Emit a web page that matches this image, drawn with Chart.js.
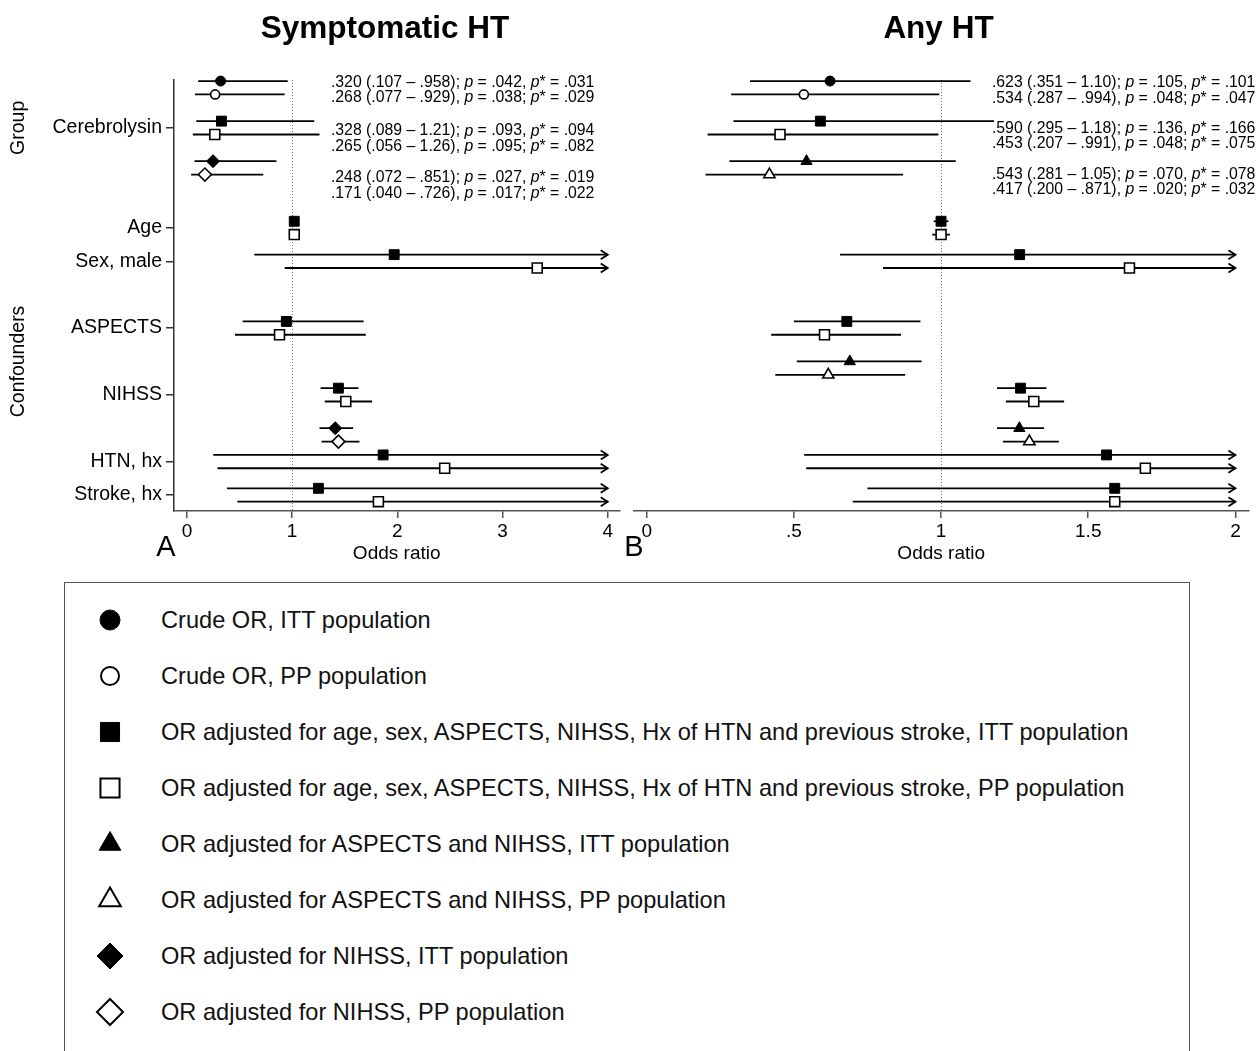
<!DOCTYPE html>
<html>
<head>
<meta charset="utf-8">
<script src="https://cdn.jsdelivr.net/npm/chart.js@4.4.1/dist/chart.umd.min.js"></script>
<style>
html,body{margin:0;padding:0;background:#fff;width:1257px;height:1051px;overflow:hidden;
  font-family:"Liberation Sans",Arial,Helvetica,sans-serif;}
#wrapA{position:absolute;left:0;top:0;width:628px;height:575px;}
#wrapB{position:absolute;left:620px;top:0;width:637px;height:575px;}
#legend{position:absolute;left:64px;top:582px;width:1126px;height:520px;border:1.5px solid #555;box-sizing:border-box;}
.icon{position:absolute;width:40px;height:40px;}
.ltext{position:absolute;font-size:23.6px;line-height:30px;color:#111;white-space:nowrap;}
</style>
</head>
<body>
<div id="wrapA"><canvas id="chartA" width="628" height="575"></canvas></div>
<div id="wrapB"><canvas id="chartB" width="637" height="575"></canvas></div>
<div id="legend"></div>
<script>
// ---------------- DATA ----------------
const panelTitles = ['Symptomatic HT', 'Any HT'];
const rowLabels  = ['Cerebrolysin', 'Age', 'Sex, male', 'ASPECTS', 'NIHSS', 'HTN, hx', 'Stroke, hx'];
const rowTickPos = [3.5, 11, 13.5, 18.5, 23.5, 28.5, 31];
const groupNames = ['Group', 'Confounders'];
const xTicksA = [0, 1, 2, 3, 4];
const xTicksB = [0, 0.5, 1, 1.5, 2];

const seriesNames = [
  'Crude OR, ITT population',
  'Crude OR, PP population',
  'OR adjusted for age, sex, ASPECTS, NIHSS, Hx of HTN and previous stroke, ITT population',
  'OR adjusted for age, sex, ASPECTS, NIHSS, Hx of HTN and previous stroke, PP population',
  'OR adjusted for ASPECTS and NIHSS, ITT population',
  'OR adjusted for ASPECTS and NIHSS, PP population',
  'OR adjusted for NIHSS, ITT population',
  'OR adjusted for NIHSS, PP population'
];

// row positions (y units) of each series' estimates
const posCrudeITT  = [0];
const posCrudePP   = [1];
const posAdjITT    = [3, 10.5, 13, 18, 23, 28, 30.5];
const posAdjPP     = [4, 11.5, 14, 19, 24, 29, 31.5];
const posAspNihITT = [6, 21, 26];
const posAspNihPP  = [7, 22, 27];
const posNihITT    = [6, 26];
const posNihPP     = [7, 27];

// Panel A: Symptomatic HT  (null upper limit = beyond axis, drawn as arrow)
const aCrudeITT_or = [0.320], aCrudeITT_lo = [0.107], aCrudeITT_hi = [0.958];
const aCrudePP_or  = [0.268], aCrudePP_lo  = [0.077], aCrudePP_hi  = [0.929];
const aAdjITT_or = [0.328, 1.02, 1.97, 0.945, 1.44, 1.865, 1.25];
const aAdjITT_lo = [0.089, 1.00, 0.64, 0.53, 1.27, 0.25, 0.38];
const aAdjITT_hi = [1.21, 1.04, null, 1.68, 1.63, null, null];
const aAdjPP_or  = [0.265, 1.02, 3.33, 0.88, 1.51, 2.45, 1.82];
const aAdjPP_lo  = [0.056, 1.00, 0.93, 0.457, 1.31, 0.29, 0.48];
const aAdjPP_hi  = [1.26, 1.04, null, 1.70, 1.76, null, null];
const aNihITT_or = [0.248, 1.41], aNihITT_lo = [0.072, 1.26], aNihITT_hi = [0.851, 1.58];
const aNihPP_or  = [0.171, 1.44], aNihPP_lo  = [0.040, 1.28], aNihPP_hi  = [0.726, 1.64];

// Panel B: Any HT
const bCrudeITT_or = [0.623], bCrudeITT_lo = [0.351], bCrudeITT_hi = [1.10];
const bCrudePP_or  = [0.534], bCrudePP_lo  = [0.287], bCrudePP_hi  = [0.994];
const bAdjITT_or = [0.590, 1.00, 1.267, 0.68, 1.27, 1.562, 1.59];
const bAdjITT_lo = [0.295, 0.975, 0.657, 0.50, 1.19, 0.535, 0.75];
const bAdjITT_hi = [1.18, 1.025, null, 0.93, 1.358, null, null];
const bAdjPP_or  = [0.453, 1.00, 1.64, 0.604, 1.315, 1.694, 1.59];
const bAdjPP_lo  = [0.207, 0.97, 0.803, 0.423, 1.22, 0.542, 0.70];
const bAdjPP_hi  = [0.991, 1.03, null, 0.864, 1.418, null, null];
const bAspNihITT_or = [0.543, 0.69, 1.266], bAspNihITT_lo = [0.281, 0.51, 1.19], bAspNihITT_hi = [1.05, 0.934, 1.35];
const bAspNihPP_or  = [0.417, 0.617, 1.30], bAspNihPP_lo  = [0.200, 0.437, 1.21], bAspNihPP_hi  = [0.871, 0.878, 1.40];

const annotA = [
  '.320 (.107 – .958); p = .042, p* = .031',
  '.268 (.077 – .929), p = .038; p* = .029',
  '.328 (.089 – 1.21); p = .093, p* = .094',
  '.265 (.056 – 1.26), p = .095; p* = .082',
  '.248 (.072 – .851); p = .027, p* = .019',
  '.171 (.040 – .726), p = .017; p* = .022'
];
const annotB = [
  '.623 (.351 – 1.10); p = .105, p* = .101',
  '.534 (.287 – .994), p = .048; p* = .047',
  '.590 (.295 – 1.18); p = .136, p* = .166',
  '.453 (.207 – .991), p = .048; p* = .075',
  '.543 (.281 – 1.05); p = .070, p* = .078',
  '.417 (.200 – .871), p = .020; p* = .032'
];

// ---------------- STYLE ----------------
const FONT = '"Liberation Sans", Arial, Helvetica, sans-serif';
Chart.defaults.font.family = FONT;
Chart.defaults.color = '#000';
// marker styles per series (index matches seriesNames)
const markerStyles = [
  {ps: 'circle',   r: 5,   fill: true},
  {ps: 'circle',   r: 4.5, fill: false},
  {ps: 'rect',     r: 7,   fill: true},
  {ps: 'rect',     r: 7,   fill: false},
  {ps: 'triangle', r: 6.5, fill: true},
  {ps: 'triangle', r: 6.5, fill: false},
  {ps: 'rectRot',  r: 6.5, fill: true},
  {ps: 'rectRot',  r: 6.5, fill: false}
];

function makeDataset(si, pos, or, lo, hi) {
  const m = markerStyles[si];
  return {
    label: seriesNames[si],
    data: pos.map((p, i) => ({x: or[i], y: p})),
    lo: lo, hi: hi,
    pointStyle: m.ps, pointRadius: m.r, pointHoverRadius: m.r,
    backgroundColor: m.fill ? '#000' : '#fff',
    borderColor: '#000', borderWidth: m.fill ? 1 : 1.6,
    clip: false
  };
}

function drawMixed(ctx, text, xRight, y, size) {
  const parts = text.split(/(p)(?=\*? =)/);
  const fonts = parts.map((t, i) => (i % 2 === 1 ? 'italic ' : '') + size + 'px ' + FONT);
  let total = 0;
  const widths = parts.map((t, i) => { ctx.font = fonts[i]; const w = ctx.measureText(t).width; total += w; return w; });
  let x = xRight - total;
  ctx.textAlign = 'left'; ctx.textBaseline = 'middle'; ctx.fillStyle = '#000';
  parts.forEach((t, i) => { ctx.font = fonts[i]; ctx.fillText(t, x, y); x += widths[i]; });
}

function forestPlugin(cfg) {
  return {
    id: 'forest',
    beforeDatasetsDraw(chart) {
      const {ctx, chartArea: ca, scales: {x, y}} = chart;
      ctx.save();
      // reference line at OR = 1
      ctx.strokeStyle = '#777'; ctx.lineWidth = 1; ctx.setLineDash([1, 2]);
      const x1 = Math.round(x.getPixelForValue(1)) + 0.5;
      ctx.beginPath(); ctx.moveTo(x1, ca.top); ctx.lineTo(x1, ca.bottom); ctx.stroke();
      ctx.setLineDash([]);
      // confidence intervals
      ctx.strokeStyle = '#000'; ctx.lineWidth = 1.8; ctx.lineCap = 'butt';
      chart.data.datasets.forEach(ds => {
        ds.data.forEach((p, i) => {
          const yy = y.getPixelForValue(p.y);
          const off = ds.hi[i] === null;
          const xl = x.getPixelForValue(ds.lo[i]);
          const xh = x.getPixelForValue(off ? cfg.arrowAt : ds.hi[i]);
          ctx.beginPath(); ctx.moveTo(xl, yy); ctx.lineTo(xh, yy); ctx.stroke();
          if (off) {
            ctx.beginPath(); ctx.moveTo(xh - 7, yy - 4.5); ctx.lineTo(xh, yy); ctx.lineTo(xh - 7, yy + 4.5); ctx.stroke();
          }
        });
      });
      ctx.restore();
    },
    afterDraw(chart) {
      const {ctx, chartArea: ca, scales: {x, y}} = chart;
      ctx.save();
      // title
      ctx.fillStyle = '#000'; ctx.textAlign = 'center'; ctx.textBaseline = 'middle';
      ctx.font = 'bold 31.5px ' + FONT;
      ctx.fillText(cfg.title, cfg.titleX, 29);
      // panel letter
      ctx.font = '29px ' + FONT;
      ctx.fillText(cfg.letter, cfg.letterX, 548);
      // annotations
      cfg.annot.forEach((t, i) => drawMixed(ctx, t, ca.right + cfg.annotDx, y.getPixelForValue(cfg.annotPos[i]), 15.8));
      // group labels
      if (cfg.groups) {
        ctx.font = '19.5px ' + FONT; ctx.textAlign = 'center'; ctx.textBaseline = 'middle';
        const gy = [y.getPixelForValue(rowTickPos[0]),
                    (y.getPixelForValue(rowTickPos[1]) + y.getPixelForValue(rowTickPos[rowTickPos.length - 1])) / 2];
        groupNames.forEach((g, i) => {
          ctx.save(); ctx.translate(19, gy[i]); ctx.rotate(-Math.PI / 2); ctx.fillText(g, 0, 0); ctx.restore();
        });
      }
      ctx.restore();
    }
  };
}

function fmtTick(v) {
  if (v === 0) return '0';
  return String(v).replace(/^0\./, '.');
}

function makePanel(id, cfg) {
  const axisColor = '#555';
  new Chart(document.getElementById(id), {
    type: 'scatter',
    data: {datasets: cfg.datasets},
    options: {
      responsive: false, animation: false, devicePixelRatio: 1,
      layout: {padding: cfg.padding},
      plugins: {legend: {display: false}, tooltip: {enabled: false}, title: {display: false}},
      scales: {
        x: {
          type: 'linear', min: cfg.xMin, max: cfg.xMax,
          afterBuildTicks: s => { s.ticks = cfg.xTicks.map(v => ({value: v})); },
          afterFit: s => { s.height = 60; },
          ticks: {callback: v => fmtTick(v), font: {size: 19}, color: '#000', padding: 2, maxRotation: 0, autoSkip: false},
          grid: {display: true, drawOnChartArea: false, drawTicks: true, tickLength: 7, color: axisColor, lineWidth: 1.5},
          border: {display: true, color: axisColor, width: 1.5},
          title: {display: true, text: 'Odds ratio', font: {size: 19}, color: '#000', padding: {top: 0, bottom: 6}}
        },
        y: {
          type: 'linear', reverse: true, min: -0.08, max: 32.2,
          display: cfg.showY,
          afterBuildTicks: s => { s.ticks = rowTickPos.map(v => ({value: v})); },
          afterFit: s => { if (cfg.showY) s.width = 174; },
          ticks: {callback: v => rowLabels[rowTickPos.indexOf(v)], font: {size: 19.5}, color: '#000', padding: 4, autoSkip: false},
          grid: {display: true, drawOnChartArea: false, drawTicks: true, tickLength: 8, color: '#333', lineWidth: 1.5},
          border: {display: true, color: '#333', width: 1.5}
        }
      }
    },
    plugins: [forestPlugin(cfg)]
  });
}

makePanel('chartA', {
  datasets: [
    makeDataset(0, posCrudeITT, aCrudeITT_or, aCrudeITT_lo, aCrudeITT_hi),
    makeDataset(1, posCrudePP, aCrudePP_or, aCrudePP_lo, aCrudePP_hi),
    makeDataset(2, posAdjITT, aAdjITT_or, aAdjITT_lo, aAdjITT_hi),
    makeDataset(3, posAdjPP, aAdjPP_or, aAdjPP_lo, aAdjPP_hi),
    makeDataset(6, posNihITT, aNihITT_or, aNihITT_lo, aNihITT_hi),
    makeDataset(7, posNihPP, aNihPP_or, aNihPP_lo, aNihPP_hi)
  ],
  xMin: -0.123, xMax: 4.111, xTicks: xTicksA, arrowAt: 4,
  padding: {left: 0, right: 0, top: 80, bottom: 4},
  showY: true, groups: true,
  title: panelTitles[0], titleX: 385, letter: 'A', letterX: 166,
  annot: annotA, annotPos: [0.1, 1.27, 3.75, 4.93, 7.22, 8.42], annotDx: -25
});

makePanel('chartB', {
  datasets: [
    makeDataset(0, posCrudeITT, bCrudeITT_or, bCrudeITT_lo, bCrudeITT_hi),
    makeDataset(1, posCrudePP, bCrudePP_or, bCrudePP_lo, bCrudePP_hi),
    makeDataset(2, posAdjITT, bAdjITT_or, bAdjITT_lo, bAdjITT_hi),
    makeDataset(3, posAdjPP, bAdjPP_or, bAdjPP_lo, bAdjPP_hi),
    makeDataset(4, posAspNihITT, bAspNihITT_or, bAspNihITT_lo, bAspNihITT_hi),
    makeDataset(5, posAspNihPP, bAspNihPP_or, bAspNihPP_lo, bAspNihPP_hi)
  ],
  xMin: -0.043, xMax: 2.044, xTicks: xTicksB, arrowAt: 2,
  padding: {left: 14, right: 7, top: 80, bottom: 4},
  showY: false, groups: false,
  title: panelTitles[1], titleX: 318.5, letter: 'B', letterX: 14,
  annot: annotB, annotPos: [0.1, 1.3, 3.57, 4.72, 7.0, 8.1], annotDx: 7
});

// ---------------- LEGEND ----------------
const legendSizes = [
  {r: 10, lw: 1}, {r: 9, lw: 2}, {r: 13.5, lw: 1}, {r: 13.5, lw: 2},
  {r: 12.5, lw: 1}, {r: 12.5, lw: 2}, {r: 13, lw: 1}, {r: 13, lw: 2}
];
const legendEl = document.getElementById('legend');
seriesNames.forEach((name, i) => {
  const cy = 36.5 + 56 * i;
  const cv = document.createElement('canvas');
  cv.width = 40; cv.height = 40; cv.className = 'icon';
  cv.style.left = (44.5 - 20) + 'px'; cv.style.top = (cy - 20) + 'px';
  legendEl.appendChild(cv);
  const c = cv.getContext('2d');
  const m = markerStyles[i];
  c.fillStyle = m.fill ? '#000' : '#fff';
  c.strokeStyle = '#000';
  c.lineWidth = legendSizes[i].lw;
  Chart.helpers.drawPoint(c, {pointStyle: m.ps, radius: legendSizes[i].r, rotation: 0, borderWidth: legendSizes[i].lw}, 20, 20);
  const sp = document.createElement('div');
  sp.className = 'ltext';
  sp.textContent = name;
  sp.style.left = '96px'; sp.style.top = (cy - 15) + 'px';
  legendEl.appendChild(sp);
});
</script>
</body>
</html>
